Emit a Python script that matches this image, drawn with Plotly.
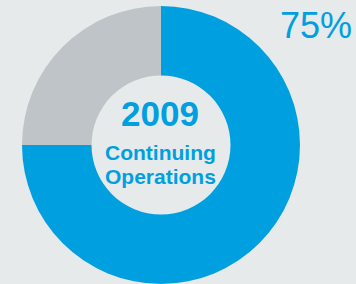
import plotly.graph_objects as go

labels = ["Continuing Operations", "Other"]
values = [75, 25]
colors = ["#009FE0", "#BEC4C7"]
pct_label = "75%"
year_label = "2009"
center_lines = ["Continuing", "Operations"]

W, H = 356, 284
BG = "#E6EAEB"
FONT = "Liberation Sans, Arial, sans-serif"

fig = go.Figure(go.Pie(
    labels=labels, values=values, sort=False, direction="clockwise", rotation=0,
    hole=0.5, marker=dict(colors=colors, line=dict(width=0)),
    textinfo="none", hoverinfo="none", showlegend=False,
    domain=dict(x=[22 / W, 300 / W], y=[0, 278 / H]),
))

fig.add_annotation(text=pct_label, x=354 / W, y=1 - 25 / H, xref="paper", yref="paper",
                   xanchor="right", yanchor="middle", showarrow=False,
                   font=dict(family=FONT, size=36, color="#009FE0"))
fig.add_annotation(text="<b>%s</b>" % year_label, x=160 / W, y=1 - 113 / H, xref="paper", yref="paper",
                   xanchor="center", yanchor="middle", showarrow=False,
                   font=dict(family=FONT, size=35, color="#009FE0"))
fig.add_annotation(text="<b>%s</b>" % center_lines[0], x=160 / W, y=1 - 152 / H, xref="paper", yref="paper",
                   xanchor="center", yanchor="middle", showarrow=False,
                   font=dict(family=FONT, size=21, color="#009FE0"))
fig.add_annotation(text="<b>%s</b>" % center_lines[1], x=160 / W, y=1 - 176 / H, xref="paper", yref="paper",
                   xanchor="center", yanchor="middle", showarrow=False,
                   font=dict(family=FONT, size=21, color="#009FE0"))

fig.update_layout(width=W, height=H, margin=dict(l=0, r=0, t=0, b=0),
                  paper_bgcolor=BG, plot_bgcolor=BG)
fig.write_html("out.html", config={"displayModeBar": False},
               post_script="document.body.style.margin='0';document.body.style.overflow='hidden';document.body.style.background='%s';" % BG)
